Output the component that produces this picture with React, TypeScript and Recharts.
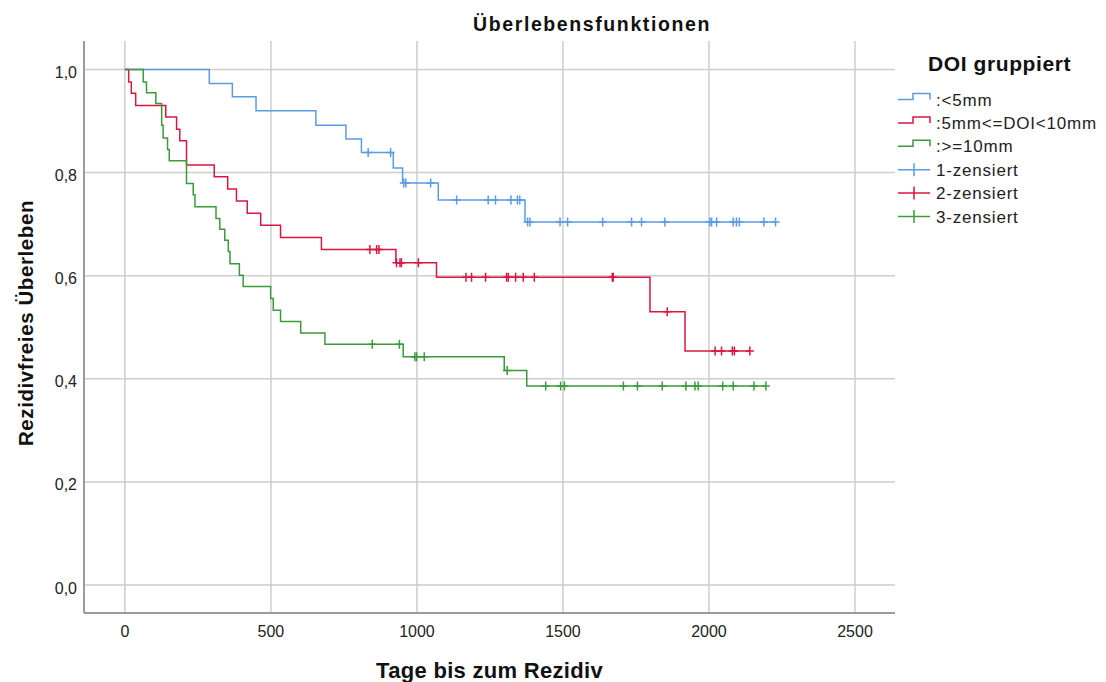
import React from 'react';
import { LineChart, Line, XAxis, YAxis, CartesianGrid, Label } from 'recharts';

// Axis ticks
const dayTicks = [0, 500, 1000, 1500, 2000, 2500];
const survivalTicks = [0, 0.2, 0.4, 0.6, 0.8, 1.0];

// Group labels
const groupNames = [':<5mm', ':5mm<=DOI<10mm', ':>=10mm'];
const censorNames = ['1-zensiert', '2-zensiert', '3-zensiert'];
const groupColors = ['#5b9be6', '#d8173f', '#3b9a3b'];

// DOI < 5mm: [day, survival after event]
const lowEvents: [number, number][] = [
  [289, 0.973], [368, 0.947], [449, 0.92], [654, 0.892], [757, 0.865],
  [810, 0.839], [919, 0.809], [951, 0.78], [1073, 0.747], [1370, 0.704],
];
const lowCensored = [
  833, 910, 955, 962, 1047, 1136, 1244, 1269, 1322, 1344, 1352, 1379, 1387,
  1490, 1516, 1636, 1735, 1769, 1849, 2003, 2009, 2026, 2083, 2094, 2104, 2188, 2228,
];

// 5mm <= DOI < 10mm
const midEvents: [number, number][] = [
  [13, 0.976], [22, 0.954], [37, 0.93], [140, 0.908], [177, 0.884], [188, 0.862],
  [211, 0.815], [306, 0.792], [352, 0.768], [382, 0.745], [419, 0.721], [465, 0.698],
  [533, 0.674], [673, 0.651], [928, 0.625], [1067, 0.597], [1798, 0.53], [1918, 0.454],
];
const midCensored = [
  839, 862, 870, 930, 942, 947, 1005, 1168, 1187, 1235, 1307, 1313, 1338, 1364,
  1402, 1669, 1672, 1857, 2021, 2043, 2080, 2087, 2140,
];

// DOI >= 10mm
const highEvents: [number, number][] = [
  [63, 0.976], [74, 0.955], [106, 0.934], [126, 0.892], [131, 0.867], [146, 0.845],
  [152, 0.823], [211, 0.779], [234, 0.757], [240, 0.734], [312, 0.711], [325, 0.69],
  [342, 0.669], [354, 0.647], [360, 0.623], [392, 0.601], [405, 0.579], [499, 0.556],
  [508, 0.533], [533, 0.511], [602, 0.489], [685, 0.467], [953, 0.443], [1299, 0.416],
  [1376, 0.386],
];
const highCensored = [
  847, 940, 993, 999, 1025, 1309, 1441, 1492, 1505, 1707, 1755, 1840, 1921, 1952,
  1963, 2047, 2083, 2154, 2195,
];

type Pt = { t: number; s: number; c: boolean };

// Kaplan-Meier step data: events set the new level, censored cases sit on the current level
function buildCurve(events: [number, number][], censored: number[]): Pt[] {
  const raw: Pt[] = [{ t: 0, s: 1, c: false }];
  events.forEach(([t, s]) => raw.push({ t, s, c: false }));
  censored.forEach((t) => raw.push({ t, s: NaN, c: true }));
  raw.sort((a, b) => a.t - b.t || (a.c ? 1 : 0) - (b.c ? 1 : 0));
  let level = 1;
  return raw.map((p) => {
    if (p.c) return { ...p, s: level };
    level = p.s;
    return p;
  });
}

const curves = [
  buildCurve(lowEvents, lowCensored),
  buildCurve(midEvents, midCensored),
  buildCurve(highEvents, highCensored),
];

const FONT = '"Liberation Sans", Arial, sans-serif';

const censorDot = (color: string) => (props: any) => {
  const { cx, cy, payload, index } = props;
  if (!payload || !payload.c || cx == null || cy == null) return <g key={`d${index}`} />;
  return (
    <path
      key={`d${index}`}
      d={`M${cx - 4},${cy}H${cx + 4}M${cx},${cy - 4.5}V${cy + 4.5}`}
      stroke={color}
      strokeWidth={1.5}
      fill="none"
    />
  );
};

const XTick = (props: any) => {
  const { x, y, payload } = props;
  return (
    <text x={x} y={y + 23.5} textAnchor="middle" fontSize={16} fontFamily={FONT} fill="#222">
      {payload.value}
    </text>
  );
};

const YTick = (props: any) => {
  const { y, payload } = props;
  return (
    <text x={77} y={y + 8.5} textAnchor="end" fontSize={16} fontFamily={FONT} fill="#222">
      {Number(payload.value).toFixed(1).replace('.', ',')}
    </text>
  );
};

function LegendPanel() {
  const rowY = (i: number) => 99.5 + i * 23.4;
  return (
    <svg
      width={226}
      height={260}
      style={{ position: 'absolute', left: 880, top: 0, overflow: 'visible' }}
      viewBox="880 0 226 260"
    >
      <text x={928} y={71} fontSize={21} fontWeight="bold" letterSpacing={0.6} fontFamily={FONT} fill="#111">
        DOI gruppiert
      </text>
      {groupNames.map((name, i) => {
        const y = rowY(i);
        return (
          <g key={name}>
            <path d={`M898,${y}H913V${y - 6}H930V${y}`} stroke={groupColors[i]} strokeWidth={1.5} fill="none" />
            <text x={936} y={y + 6} fontSize={17} letterSpacing={0.8} fontFamily={FONT} fill="#222">
              {name}
            </text>
          </g>
        );
      })}
      {censorNames.map((name, i) => {
        const y = rowY(i + 3);
        return (
          <g key={name}>
            <path d={`M898,${y}H930M914,${y - 6.5}V${y + 6.5}`} stroke={groupColors[i]} strokeWidth={1.5} fill="none" />
            <text x={936} y={y + 6} fontSize={17} letterSpacing={0.8} fontFamily={FONT} fill="#222">
              {name}
            </text>
          </g>
        );
      })}
    </svg>
  );
}

export default function App() {
  return (
    <div style={{ position: 'absolute', left: 0, top: 0, width: 1106, height: 682, background: '#fff' }}>
      <div
        style={{
          position: 'absolute',
          left: 0,
          width: 1184,
          top: 12,
          textAlign: 'center',
          fontFamily: FONT,
          fontWeight: 'bold',
          fontSize: 19.5,
          letterSpacing: 1.6,
          color: '#111',
          lineHeight: '24px',
        }}
      >
        Überlebensfunktionen
      </div>
      <LineChart width={1106} height={682} margin={{ top: 41, right: 211, bottom: 0, left: 0 }}>
        <CartesianGrid
          stroke="#cdcdcd"
          strokeWidth={1.5}
          horizontalValues={survivalTicks}
          verticalValues={dayTicks}
        />
        <XAxis
          type="number"
          dataKey="t"
          domain={[-140, 2637]}
          ticks={dayTicks}
          allowDataOverflow
          height={69}
          tickLine={false}
          tickSize={0}
          tickMargin={0}
          axisLine={{ stroke: '#9a9a9a', strokeWidth: 2 }}
          tick={<XTick />}
        >
          <Label
            content={(p: any) => {
              const vb = p.viewBox || { x: 84, y: 613, width: 811 };
              return (
                <text
                  x={vb.x + vb.width / 2}
                  y={vb.y + 65}
                  textAnchor="middle"
                  fontSize={22}
                  fontWeight="bold"
                  letterSpacing={0.3}
                  fontFamily={FONT}
                  fill="#111"
                >
                  Tage bis zum Rezidiv
                </text>
              );
            }}
          />
        </XAxis>
        <YAxis
          type="number"
          domain={[-0.0543, 1.0553]}
          ticks={survivalTicks}
          allowDataOverflow
          width={84}
          tickLine={false}
          tickSize={0}
          tickMargin={0}
          axisLine={{ stroke: '#9a9a9a', strokeWidth: 2 }}
          tick={<YTick />}
        >
          <Label
            content={(p: any) => {
              const vb = p.viewBox || { x: 0, y: 41, width: 84, height: 572 };
              const cy = vb.y + vb.height / 2 - 4;
              return (
                <text
                  x={33}
                  y={cy}
                  transform={`rotate(-90, 33, ${cy})`}
                  textAnchor="middle"
                  fontSize={20.5}
                  fontWeight="bold"
                  letterSpacing={0.6}
                  fontFamily={FONT}
                  fill="#111"
                >
                  Rezidivfreies Überleben
                </text>
              );
            }}
          />
        </YAxis>
        {curves.map((data, i) => (
          <Line
            key={groupNames[i]}
            data={data}
            dataKey="s"
            type="stepAfter"
            stroke={groupColors[i]}
            strokeWidth={1.5}
            dot={censorDot(groupColors[i])}
            activeDot={false}
            isAnimationActive={false}
            legendType="none"
          />
        ))}
      </LineChart>
      <LegendPanel />
    </div>
  );
}
